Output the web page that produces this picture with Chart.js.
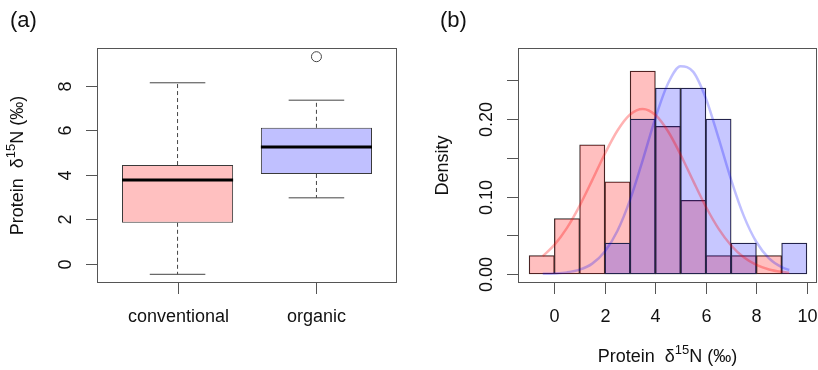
<!DOCTYPE html>
<html>
<head>
<meta charset="utf-8">
<script src="https://cdn.jsdelivr.net/npm/chart.js@4/dist/chart.umd.min.js"></script>
<style>
  html, body { margin: 0; padding: 0; background: #fff; }
  #wrap { position: relative; width: 818px; height: 370px; overflow: hidden; }
  canvas { position: absolute; top: 0; }
</style>
</head>
<body>
<div id="wrap">
  <canvas id="boxc" width="409" height="370" style="left:0"></canvas>
  <canvas id="histc" width="409" height="370" style="left:409px"></canvas>
</div>
<script>
// (a) boxplot stats
var groups = ['conventional', 'organic'];
var boxMin = [-0.46, 2.97];
var boxQ1  = [1.85, 4.04];
var boxMed = [3.77, 5.25];
var boxQ3  = [4.44, 6.11];
var boxMax = [8.13, 7.35];
var outliers = [[], [9.3]];
var boxFill = ['#ffc0c0', '#c0c0ff'];
var boxYTicks = [0, 2, 4, 6, 8];

// (b) histogram densities, bins of width 1
var binMids = [-0.5, 0.5, 1.5, 2.5, 3.5, 4.5, 5.5, 6.5, 7.5, 8.5, 9.5];
var convDensity = [0.0238, 0.0714, 0.1667, 0.1190, 0.2619, 0.1905, 0.0952, 0.0238, 0.0238, 0.0238, 0];
var orgDensity  = [0, 0, 0, 0.04, 0.20, 0.24, 0.24, 0.20, 0.04, 0, 0.04];

// fitted density curves
var curveX    = [-0.46, 0, 0.5, 1, 1.5, 2, 2.5, 3, 3.5, 4, 4.5, 5, 5.5, 6, 6.5, 7, 7.5, 8, 8.5, 9, 9.3];
var convCurve = [0.0230, 0.0376, 0.0596, 0.0880, 0.1211, 0.1552, 0.1852, 0.2058, 0.2130, 0.2052, 0.1842,
                 0.1539, 0.1198, 0.0868, 0.0586, 0.0368, 0.0215, 0.0117, 0.0059, 0.0028, 0.0017];
var orgCurve  = [0.0002, 0.0007, 0.0021, 0.0056, 0.0134, 0.0290, 0.0558, 0.0959, 0.1470, 0.2012, 0.2458,
                 0.2680, 0.2608, 0.2265, 0.1756, 0.1215, 0.0750, 0.0413, 0.0203, 0.0089, 0.0052];

var histXTicks = [0, 2, 4, 6, 8, 10];
var histYTicks = [0, 0.05, 0.10, 0.15, 0.20, 0.25];
var histYLabels = ['0.00', '', '0.10', '', '0.20', ''];

var FONT = '"Liberation Sans", Arial, Helvetica, sans-serif';

// "Protein  δ15N (‰)" with a superscript, centred on 0,0
function deltaLabel(ctx) {
  var a = 'Protein  \u03b4', s = '15', b = 'N (\u2030)';
  ctx.font = '18px ' + FONT;
  var wa = ctx.measureText(a).width, wb = ctx.measureText(b).width;
  ctx.font = '13px ' + FONT;
  var ws = ctx.measureText(s).width;
  var x = -(wa + ws + wb) / 2;
  ctx.textAlign = 'left';
  ctx.textBaseline = 'middle';
  ctx.font = '18px ' + FONT;
  ctx.fillText(a, x, 0);
  ctx.font = '13px ' + FONT;
  ctx.fillText(s, x + wa, -7);
  ctx.font = '18px ' + FONT;
  ctx.fillText(b, x + wa + ws, 0);
}

function rAxes(cfg) {
  return {
    id: 'rAxes',
    afterDraw: function (chart) {
      var ctx = chart.ctx, a = chart.chartArea;
      var xs = chart.scales.x, ys = chart.scales.y;
      ctx.save();
      ctx.strokeStyle = '#555';
      ctx.fillStyle = '#111';
      ctx.lineWidth = 1;
      ctx.strokeRect(a.left + 0.5, a.top + 0.5, a.right - a.left - 1, a.bottom - a.top - 1);

      ctx.font = '18px ' + FONT;
      ctx.textAlign = 'center';
      ctx.textBaseline = 'middle';
      cfg.xTicks.forEach(function (v, i) {
        var px = Math.round(xs.getPixelForValue(v)) + 0.5;
        ctx.beginPath();
        ctx.moveTo(px, a.bottom);
        ctx.lineTo(px, a.bottom + 11);
        ctx.stroke();
        ctx.fillText(cfg.xLabels[i], px, a.bottom + 34);
      });
      cfg.yTicks.forEach(function (v, i) {
        var py = Math.round(ys.getPixelForValue(v)) + 0.5;
        ctx.beginPath();
        ctx.moveTo(a.left - 11, py);
        ctx.lineTo(a.left, py);
        ctx.stroke();
        if (cfg.yLabels[i]) {
          ctx.save();
          ctx.translate(a.left - 31, py);
          ctx.rotate(-Math.PI / 2);
          ctx.fillText(cfg.yLabels[i], 0, 0);
          ctx.restore();
        }
      });

      // y title
      ctx.save();
      ctx.translate(cfg.yTitleX, (a.top + a.bottom) / 2);
      ctx.rotate(-Math.PI / 2);
      if (cfg.yTitle === 'delta') deltaLabel(ctx);
      else { ctx.font = '18px ' + FONT; ctx.fillText(cfg.yTitle, 0, 0); }
      ctx.restore();

      // x title
      if (cfg.xTitle) {
        ctx.save();
        ctx.translate((a.left + a.right) / 2, 357);
        deltaLabel(ctx);
        ctx.restore();
      }

      // panel tag
      ctx.font = '22px ' + FONT;
      ctx.textAlign = 'left';
      ctx.textBaseline = 'middle';
      ctx.fillText(cfg.tag, cfg.tagX, 21);
      ctx.restore();
    }
  };
}

// ---------- (a) boxplot ----------
var boxSets = [{
  type: 'bar',
  data: groups.map(function (g, i) { return { x: i + 1, y: [boxQ1[i], boxQ3[i]] }; }),
  backgroundColor: boxFill,
  borderColor: '#3a3a3a',
  borderWidth: 1,
  borderSkipped: false,
  barPercentage: 1,
  categoryPercentage: 0.8,
  grouped: false,
  order: 5
}];

function seg(pts, color, width, dash) {
  return {
    type: 'line', data: pts, borderColor: color, borderWidth: width,
    borderDash: dash || [], pointRadius: 0, fill: false, tension: 0, order: 1
  };
}

groups.forEach(function (g, i) {
  var x = i + 1;
  boxSets.push(seg([{ x: x, y: boxQ3[i] }, { x: x, y: boxMax[i] }], '#444', 1, [4, 3]));
  boxSets.push(seg([{ x: x, y: boxQ1[i] }, { x: x, y: boxMin[i] }], '#444', 1, [4, 3]));
  boxSets.push(seg([{ x: x - 0.2, y: boxMax[i] }, { x: x + 0.2, y: boxMax[i] }], '#444', 1));
  boxSets.push(seg([{ x: x - 0.2, y: boxMin[i] }, { x: x + 0.2, y: boxMin[i] }], '#444', 1));
  boxSets.push(seg([{ x: x - 0.4, y: boxMed[i] }, { x: x + 0.4, y: boxMed[i] }], '#000', 3));
});

var outPts = [];
outliers.forEach(function (list, i) {
  list.forEach(function (v) { outPts.push({ x: i + 1, y: v }); });
});
boxSets.push({
  type: 'line', data: outPts, showLine: false,
  pointRadius: 5, pointBorderWidth: 1, pointBorderColor: '#444',
  pointBackgroundColor: '#fff', order: 0
});

new Chart(document.getElementById('boxc'), {
  type: 'bar',
  data: { datasets: boxSets },
  options: {
    responsive: false,
    animation: false,
    layout: { padding: { left: 97, right: 12, top: 48, bottom: 87 } },
    plugins: { legend: { display: false }, tooltip: { enabled: false } },
    scales: {
      x: {
        type: 'linear', min: 0.42, max: 2.58, offset: false, display: false,
        afterBuildTicks: function (s) { s.ticks = groups.map(function (g, i) { return { value: i + 1 }; }); }
      },
      y: { type: 'linear', min: -0.85, max: 9.69, display: false }
    }
  },
  plugins: [rAxes({
    xTicks: [1, 2], xLabels: groups,
    yTicks: boxYTicks, yLabels: boxYTicks.map(String),
    yTitle: 'delta', yTitleX: 18, tag: '(a)', tagX: 10
  })]
});

// ---------- (b) histogram ----------
new Chart(document.getElementById('histc'), {
  type: 'bar',
  data: {
    datasets: [
      {
        type: 'line', data: curveX.map(function (x, i) { return { x: x, y: convCurve[i] }; }),
        borderColor: 'rgba(255,0,0,0.3)', borderWidth: 2.5, pointRadius: 0,
        cubicInterpolationMode: 'monotone', fill: false, order: 0
      },
      {
        type: 'line', data: curveX.map(function (x, i) { return { x: x, y: orgCurve[i] }; }),
        borderColor: 'rgba(0,0,255,0.25)', borderWidth: 2.5, pointRadius: 0,
        cubicInterpolationMode: 'monotone', fill: false, order: 0
      },
      {
        type: 'bar', data: binMids.map(function (m, i) { return { x: m, y: orgDensity[i] }; }),
        backgroundColor: 'rgba(0,0,255,0.22)', borderColor: '#2a2a2a', borderWidth: 0.6,
        borderSkipped: false, barPercentage: 1, categoryPercentage: 1, grouped: false, order: 1
      },
      {
        type: 'bar', data: binMids.map(function (m, i) { return { x: m, y: convDensity[i] }; }),
        backgroundColor: 'rgba(255,0,0,0.25)', borderColor: '#2a2a2a', borderWidth: 0.6,
        borderSkipped: false, barPercentage: 1, categoryPercentage: 1, grouped: false, order: 2
      }
    ]
  },
  options: {
    responsive: false,
    animation: false,
    layout: { padding: { left: 109, right: 1, top: 48, bottom: 87 } },
    plugins: { legend: { display: false }, tooltip: { enabled: false } },
    scales: {
      x: {
        type: 'linear', min: -1.44, max: 10.4, offset: false, display: false,
        afterBuildTicks: function (s) { s.ticks = histXTicks.map(function (v) { return { value: v }; }); }
      },
      y: { type: 'linear', min: -0.0116, max: 0.2916, display: false }
    }
  },
  plugins: [rAxes({
    xTicks: histXTicks, xLabels: histXTicks.map(String),
    yTicks: histYTicks, yLabels: histYLabels,
    yTitle: 'Density', yTitleX: 34, xTitle: true, tag: '(b)', tagX: 31
  })]
});
</script>
</body>
</html>
